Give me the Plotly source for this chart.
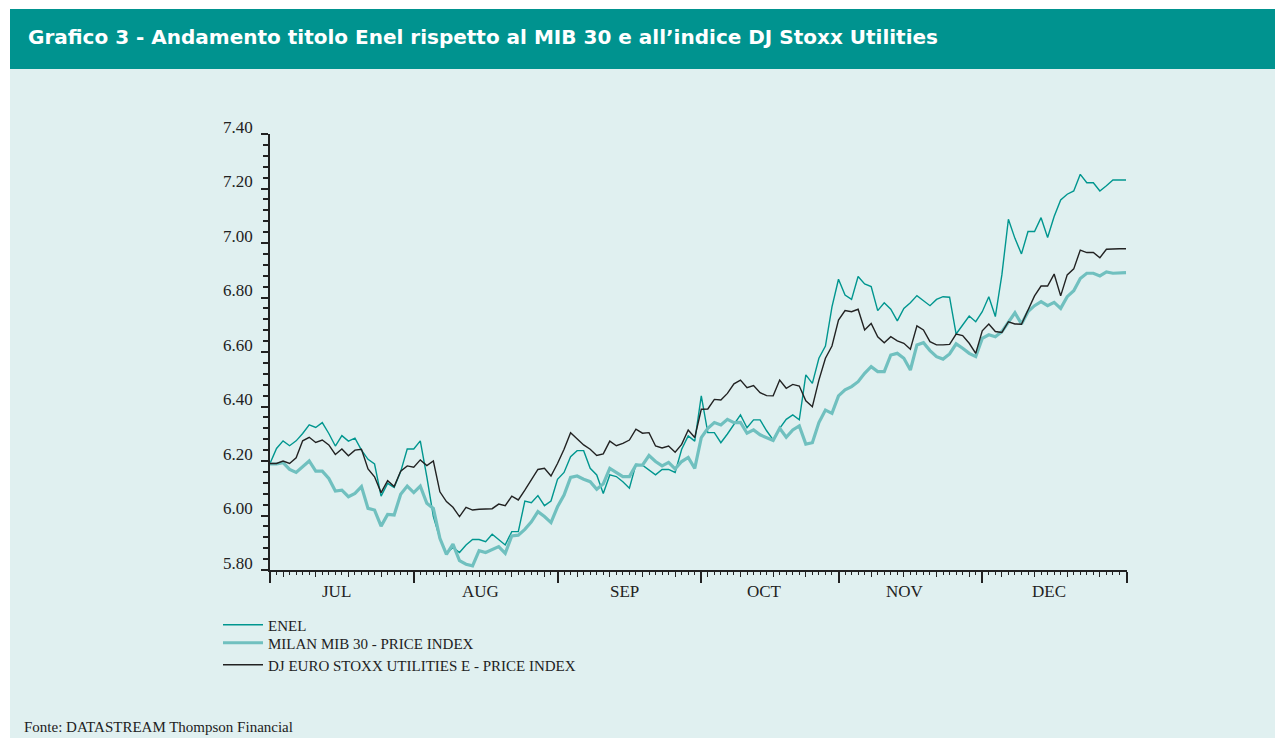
import pandas as pd
import plotly.graph_objects as go

# ---------------- data ----------------
dates = pd.bdate_range("2004-07-01", "2004-12-31")  # business days, Jul-Dec
month_names = ["JUL", "AUG", "SEP", "OCT", "NOV", "DEC"]
series_names = ["ENEL", "MILAN MIB 30 - PRICE INDEX", "DJ EURO STOXX UTILITIES E - PRICE INDEX"]
y_ticks = [5.80, 6.00, 6.20, 6.40, 6.60, 6.80, 7.00, 7.20, 7.40]

enel = [
    6.191, 6.246, 6.274, 6.256, 6.274, 6.301, 6.333, 6.323, 6.341, 6.301,
    6.255, 6.293, 6.273, 6.284, 6.240, 6.206, 6.189, 6.071, 6.118, 6.103,
    6.161, 6.244, 6.244, 6.274, 6.142, 5.996, 5.916, 5.861, 5.883, 5.864,
    5.892, 5.912, 5.912, 5.904, 5.931, 5.910, 5.892, 5.941, 5.941, 6.053,
    6.047, 6.073, 6.036, 6.053, 6.133, 6.158, 6.216, 6.238, 6.238, 6.173,
    6.149, 6.081, 6.149, 6.143, 6.124, 6.100, 6.188, 6.185, 6.167, 6.149,
    6.169, 6.169, 6.158, 6.243, 6.292, 6.273, 6.439, 6.304, 6.304, 6.267,
    6.299, 6.332, 6.369, 6.322, 6.351, 6.351, 6.311, 6.277, 6.320, 6.353,
    6.369, 6.351, 6.516, 6.485, 6.577, 6.622, 6.766, 6.867, 6.809, 6.793,
    6.877, 6.850, 6.840, 6.752, 6.781, 6.757, 6.714, 6.760, 6.781, 6.807,
    6.787, 6.770, 6.793, 6.803, 6.801, 6.666, 6.699, 6.732, 6.711, 6.748,
    6.803, 6.730, 6.883, 7.087, 7.017, 6.960, 7.042, 7.042, 7.093, 7.020,
    7.097, 7.158, 7.179, 7.191, 7.252, 7.221, 7.221, 7.191, 7.210, 7.231,
    7.231, 7.231,
]

mib30 = [
    6.189, 6.189, 6.194, 6.169, 6.158, 6.179, 6.200, 6.163, 6.163, 6.136,
    6.090, 6.093, 6.069, 6.081, 6.106, 6.026, 6.020, 5.961, 6.004, 6.002,
    6.078, 6.108, 6.084, 6.108, 6.045, 6.026, 5.916, 5.857, 5.895, 5.834,
    5.821, 5.815, 5.871, 5.864, 5.876, 5.886, 5.861, 5.925, 5.928, 5.949,
    5.977, 6.014, 5.996, 5.974, 6.032, 6.075, 6.140, 6.145, 6.133, 6.124,
    6.096, 6.116, 6.173, 6.157, 6.143, 6.143, 6.185, 6.185, 6.220, 6.198,
    6.182, 6.195, 6.171, 6.198, 6.213, 6.173, 6.286, 6.320, 6.341, 6.332,
    6.353, 6.341, 6.342, 6.302, 6.314, 6.296, 6.287, 6.275, 6.320, 6.287,
    6.314, 6.329, 6.262, 6.267, 6.341, 6.387, 6.375, 6.439, 6.461, 6.473,
    6.491, 6.522, 6.546, 6.528, 6.528, 6.589, 6.595, 6.577, 6.534, 6.626,
    6.634, 6.605, 6.583, 6.574, 6.593, 6.630, 6.614, 6.595, 6.583, 6.650,
    6.663, 6.656, 6.675, 6.711, 6.744, 6.703, 6.748, 6.770, 6.785, 6.770,
    6.782, 6.760, 6.803, 6.825, 6.870, 6.889, 6.889, 6.879, 6.894, 6.889,
    6.891, 6.891,
]

dj_utilities = [
    6.191, 6.191, 6.200, 6.191, 6.212, 6.274, 6.287, 6.268, 6.277, 6.259,
    6.224, 6.244, 6.219, 6.240, 6.243, 6.171, 6.142, 6.084, 6.128, 6.106,
    6.163, 6.182, 6.177, 6.204, 6.183, 6.200, 6.087, 6.051, 6.030, 5.996,
    6.030, 6.020, 6.023, 6.024, 6.025, 6.042, 6.036, 6.071, 6.057, 6.093,
    6.133, 6.169, 6.173, 6.145, 6.191, 6.243, 6.304, 6.281, 6.259, 6.243,
    6.220, 6.226, 6.273, 6.256, 6.265, 6.277, 6.317, 6.302, 6.304, 6.255,
    6.248, 6.255, 6.232, 6.261, 6.314, 6.286, 6.390, 6.391, 6.426, 6.424,
    6.448, 6.483, 6.497, 6.469, 6.477, 6.451, 6.440, 6.439, 6.497, 6.467,
    6.481, 6.475, 6.421, 6.399, 6.497, 6.577, 6.622, 6.717, 6.752, 6.748,
    6.757, 6.681, 6.705, 6.656, 6.634, 6.656, 6.641, 6.632, 6.610, 6.696,
    6.681, 6.638, 6.626, 6.626, 6.628, 6.666, 6.660, 6.632, 6.595, 6.678,
    6.703, 6.675, 6.672, 6.711, 6.703, 6.702, 6.757, 6.806, 6.842, 6.842,
    6.886, 6.806, 6.883, 6.905, 6.974, 6.965, 6.965, 6.946, 6.977, 6.979,
    6.979, 6.979,
]

# ---------------- derived positions ----------------
x = list(range(len(dates)))
month_starts = [i for i, d in enumerate(dates) if i == 0 or d.month != dates[i - 1].month]
month_bounds = month_starts + [len(dates) - 1]
mondays = [i for i, d in enumerate(dates) if d.weekday() == 0]
x_end = len(dates) - 1 + 0.15

OFF = 8  # page body margin
PAGE_W, PAGE_H = 1283, 738
W, H = PAGE_W - OFF, PAGE_H - OFF
# plot area in page pixels: x 270..1127, y 134..570
L = 270 - OFF
R = W - (1127 - OFF)
T = 134 - OFF
B = H - (570 - OFF)
PW, PH = W - L - R, H - T - B


def px_x(px):  # page pixel -> paper x
    return (px - OFF - L) / PW


def px_y(py):  # page pixel -> paper y
    return (H - B - (py - OFF)) / PH


SERIF = "Liberation Serif, Times New Roman, serif"
INK = "#222222"
TEAL_BAR = "#00938f"
BG = "#e0f0f0"
ENEL_C = "#00968f"
MIB_C = "#70c0bf"

fig = go.Figure()
fig.add_trace(go.Scatter(x=x, y=enel, mode="lines", name=series_names[0],
                         line=dict(color=ENEL_C, width=1.4), legend="legend"))
fig.add_trace(go.Scatter(x=x, y=mib30, mode="lines", name=series_names[1],
                         line=dict(color=MIB_C, width=3.2), legend="legend2"))
fig.add_trace(go.Scatter(x=x, y=dj_utilities, mode="lines", name=series_names[2],
                         line=dict(color=INK, width=1.4), legend="legend3",
                         xaxis="x2"))

legend_common = dict(font=dict(family=SERIF, size=15, color=INK), bgcolor="rgba(0,0,0,0)",
                     borderwidth=0, xanchor="left", yanchor="middle", itemwidth=40)

fig.update_layout(
    width=W, height=H,
    margin=dict(l=L, r=R, t=T, b=B, autoexpand=False),
    paper_bgcolor="white",
    plot_bgcolor=BG,
    showlegend=True,
    legend=dict(x=px_x(218), y=px_y(625), **legend_common),
    legend2=dict(x=px_x(218), y=px_y(643), **legend_common),
    legend3=dict(x=px_x(218), y=px_y(665), **legend_common),
    xaxis=dict(
        range=[0, x_end], showgrid=False, zeroline=False,
        showline=True, linecolor=INK, linewidth=1.5,
        tickmode="array", tickvals=month_bounds[:-1] + [x_end], showticklabels=False,
        ticks="outside", ticklen=11, tickwidth=1.5, tickcolor=INK,
        minor=dict(tick0=0, dtick=1, ticks="outside", ticklen=3.5, tickwidth=1, tickcolor=INK),
    ),
    xaxis2=dict(
        overlaying="x", matches="x", anchor="y", side="bottom",
        showgrid=False, zeroline=False, showline=False,
        tickmode="array", tickvals=mondays, showticklabels=False,
        ticks="outside", ticklen=6, tickwidth=1.2, tickcolor=INK,
    ),
    yaxis=dict(
        range=[y_ticks[0], y_ticks[-1]], showgrid=False, zeroline=False,
        showline=True, linecolor=INK, linewidth=1.5,
        tickmode="array", tickvals=y_ticks, tickformat=".2f",
        ticks="outside", ticklen=7, tickwidth=1.5, tickcolor=INK,
        tickfont=dict(family=SERIF, size=17, color=INK),
        ticklabelshift=-7, ticklabelstandoff=5,
        minor=dict(tick0=y_ticks[0], dtick=0.04, ticks="outside", ticklen=5, tickwidth=1.5, tickcolor=INK),
    ),
)

shapes = [
    # light panel background
    dict(type="rect", xref="paper", yref="paper", x0=px_x(10), x1=px_x(PAGE_W + 5),
         y0=px_y(PAGE_H + 5), y1=px_y(69), fillcolor=BG, line=dict(width=0), layer="below"),
    # title bar
    dict(type="rect", xref="paper", yref="paper", x0=px_x(10), x1=px_x(PAGE_W + 5),
         y0=px_y(69), y1=px_y(9), fillcolor=TEAL_BAR, line=dict(width=0), layer="below"),
]
fig.update_layout(shapes=shapes)

annotations = [
    dict(text="<b>Grafico 3 - Andamento titolo Enel rispetto al MIB 30 e all\u2019indice DJ Stoxx Utilities</b>",
         xref="paper", yref="paper", x=px_x(26), y=px_y(37), xanchor="left", yanchor="middle",
         showarrow=False, font=dict(family="DejaVu Sans, sans-serif", size=20, color="white")),
    dict(text="Fonte: DATASTREAM Thompson Financial",
         xref="paper", yref="paper", x=px_x(22), y=px_y(727), xanchor="left", yanchor="middle",
         showarrow=False, font=dict(family=SERIF, size=15, color=INK)),
]
for k, name in enumerate(month_names):
    a, b = month_bounds[k], month_bounds[k + 1]
    annotations.append(dict(
        text=name, x=(a + b) / 2 - 0.8, xref="x", yref="paper", y=px_y(591),
        xanchor="center", yanchor="middle", showarrow=False,
        font=dict(family=SERIF, size=17, color=INK)))
fig.update_layout(annotations=annotations)

fig.write_html("out.html")
